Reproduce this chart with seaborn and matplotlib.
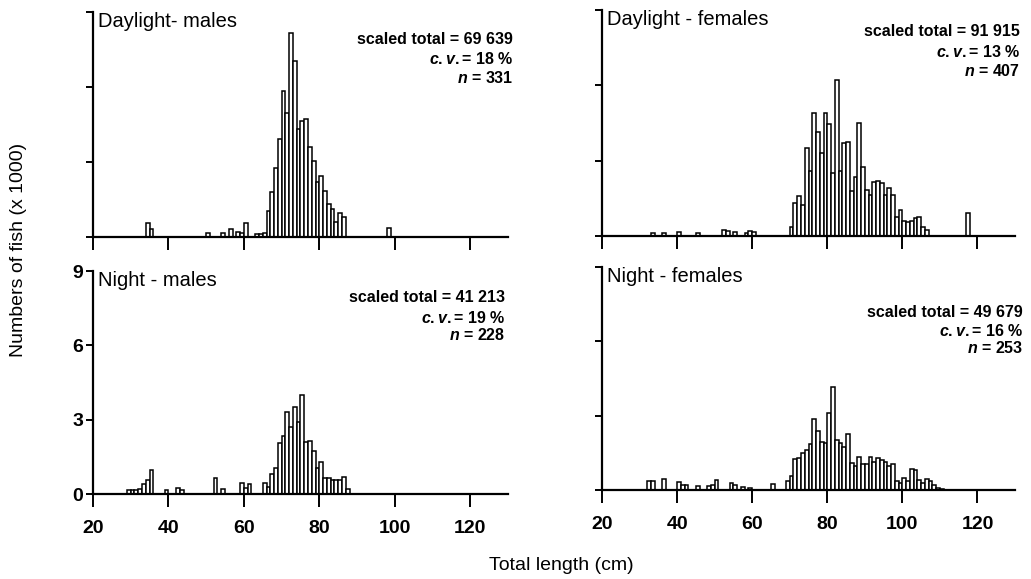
import numpy as np
import pandas as pd
import seaborn as sns
import matplotlib.pyplot as plt

# length classes (cm, left edge of 1 cm bin) and numbers of fish (x 1000)
day_m_len = [34, 35, 50, 54, 56, 58, 59, 60, 63, 64, 65, 66, 67, 68, 69, 70, 71, 72, 73,
             74, 75, 76, 77, 78, 79, 80, 81, 82, 83, 84, 85, 86, 98]
day_m_num = [0.55, 0.3, 0.15, 0.15, 0.3, 0.2, 0.15, 0.55, 0.1, 0.12, 0.15, 1.05, 1.8, 2.75,
             3.9, 5.85, 4.95, 8.15, 7.05, 4.3, 4.65, 4.7, 3.6, 3.05, 2.2, 2.45, 1.85, 1.3,
             1.1, 0.6, 0.95, 0.8, 0.35]

day_f_len = [33, 36, 40, 45, 52, 53, 55, 58, 59, 60, 70, 71, 72, 73, 74, 75, 76, 77, 78, 79,
             80, 81, 82, 83, 84, 85, 86, 87, 88, 89, 90, 91, 92, 93, 94, 95, 96, 97, 98,
             99, 100, 101, 102, 103, 104, 105, 106, 117]
day_f_num = [0.12, 0.12, 0.15, 0.1, 0.25, 0.2, 0.15, 0.12, 0.2, 0.15, 0.35, 1.3, 1.6, 1.25,
             3.5, 2.6, 4.9, 4.15, 3.3, 4.9, 4.45, 2.5, 6.2, 2.6, 3.7, 3.75, 1.8, 2.35, 4.5,
             2.75, 1.85, 1.65, 2.15, 2.2, 2.1, 1.65, 1.9, 1.65, 0.75, 1.05, 0.6, 0.55, 0.6,
             0.7, 0.75, 0.35, 0.25, 0.9]

night_m_len = [29, 30, 31, 32, 33, 34, 35, 39, 42, 43, 52, 54, 59, 60, 61, 65, 66, 67, 68,
               69, 70, 71, 72, 73, 74, 75, 76, 77, 78, 79, 80, 81, 82, 83, 84, 85, 86, 87]
night_m_num = [0.15, 0.15, 0.15, 0.2, 0.4, 0.55, 0.95, 0.15, 0.25, 0.15, 0.65, 0.2, 0.45,
               0.25, 0.4, 0.45, 0.3, 0.8, 1.05, 2.05, 2.35, 3.3, 2.7, 3.5, 2.9, 4.0, 2.1,
               2.15, 1.75, 1.05, 1.3, 0.65, 0.65, 0.55, 0.55, 0.55, 0.7, 0.2]

night_f_len = [32, 33, 36, 40, 41, 42, 45, 48, 49, 50, 54, 55, 57, 59, 65, 69, 70, 71, 72,
               73, 74, 75, 76, 77, 78, 79, 80, 81, 82, 83, 84, 85, 86, 87, 88, 89, 90, 91,
               92, 93, 94, 95, 96, 97, 98, 99, 100, 101, 102, 103, 104, 105, 106, 107, 108,
               109, 110]
night_f_num = [0.38, 0.38, 0.45, 0.33, 0.2, 0.2, 0.15, 0.15, 0.2, 0.4, 0.27, 0.2, 0.12,
               0.08, 0.25, 0.35, 0.55, 1.25, 1.3, 1.5, 1.6, 1.85, 2.85, 2.4, 1.95, 1.9,
               3.1, 4.15, 2.0, 1.9, 1.75, 2.25, 1.1, 0.95, 1.35, 1.05, 1.05, 1.35, 1.15,
               1.3, 1.2, 1.15, 0.95, 1.05, 0.35, 0.3, 0.5, 0.35, 0.85, 0.8, 0.4, 0.3, 0.45,
               0.35, 0.2, 0.1, 0.05]

titles = ['Daylight- males', 'Daylight - females', 'Night - males', 'Night - females']
totals = ['69 639', '91 915', '41 213', '49 679']
cvs = ['18', '13', '19', '16']
ns = ['331', '407', '228', '253']

sns.set_style('ticks')
plt.rcParams['font.family'] = ['Liberation Sans', 'DejaVu Sans']
plt.rcParams['text.color'] = 'black'
plt.rcParams['axes.labelcolor'] = 'black'
plt.rcParams['mathtext.fontset'] = 'custom'
plt.rcParams['mathtext.rm'] = 'Liberation Sans:bold'
plt.rcParams['mathtext.it'] = 'Liberation Sans:italic:bold'

fig = plt.figure(figsize=(10.31, 5.79), dpi=100)
boxes = [[0.0902, 0.5907, 0.4025, 0.3886],
         [0.5839, 0.5924, 0.4006, 0.3903],
         [0.0902, 0.1468, 0.4025, 0.3851],
         [0.5839, 0.1537, 0.4006, 0.3851]]
datasets = [(day_m_len, day_m_num), (day_f_len, day_f_num),
            (night_m_len, night_m_num), (night_f_len, night_f_num)]
stat_y = [(0.876, 0.791, 0.707), (0.903, 0.814, 0.73),
          (0.883, 0.79, 0.715), (0.794, 0.713, 0.637)]
stat_x = [1.012, 1.012, 0.993, 1.019]

for i in range(4):
    ax = fig.add_axes(boxes[i])
    lengths, nums = datasets[i]
    df = pd.DataFrame({'length': np.array(lengths) + 0.5, 'num': nums})
    sns.histplot(data=df, x='length', weights='num', binwidth=1,
                 binrange=(min(lengths), max(lengths) + 1),
                 ax=ax, color='white', edgecolor='black', linewidth=1.1, alpha=1)
    ax.set_xlim(20, 130)
    ax.set_ylim(0, 9)
    ax.set_xticks([20, 40, 60, 80, 100, 120])
    ax.set_yticks([0, 3, 6, 9])
    ax.set_xlabel('')
    ax.set_ylabel('')
    sns.despine(ax=ax)
    for s in ['left', 'bottom']:
        ax.spines[s].set_linewidth(1.6)
        ax.spines[s].set_color('black')
    ax.tick_params(axis='x', length=9, width=1.4, pad=10, labelsize=14, colors='black')
    ax.tick_params(axis='y', length=5, width=1.4, pad=2, labelsize=14, colors='black')
    for lab in ax.get_xticklabels() + ax.get_yticklabels():
        lab.set_fontweight('bold')
    if i < 2:
        ax.tick_params(axis='x', labelbottom=False)
    if i != 2:
        ax.tick_params(axis='y', labelleft=False)
    ax.text(0.012, 1.0, titles[i], transform=ax.transAxes, ha='left', va='top',
            fontsize=14.5, color='black')
    ys = stat_y[i]
    ax.text(stat_x[i], ys[0], 'scaled total = ' + totals[i], transform=ax.transAxes,
            ha='right', va='center', fontsize=11.5, fontweight='bold', color='black')
    ax.text(stat_x[i], ys[1], r'$\mathit{c.v.}$= ' + cvs[i] + ' %', transform=ax.transAxes,
            ha='right', va='center', fontsize=11.5, fontweight='bold', color='black')
    ax.text(stat_x[i], ys[2], r'$\mathit{n}$ = ' + ns[i], transform=ax.transAxes,
            ha='right', va='center', fontsize=11.5, fontweight='bold', color='black')

fig.text(0.544, 0.024, 'Total length (cm)', ha='center', va='center', fontsize=14,
         color='black')
fig.text(0.018, 0.568, 'Numbers of fish (x 1000)', ha='center', va='center',
         rotation=90, fontsize=14, color='black')

fig.savefig('out.png', dpi=100)
